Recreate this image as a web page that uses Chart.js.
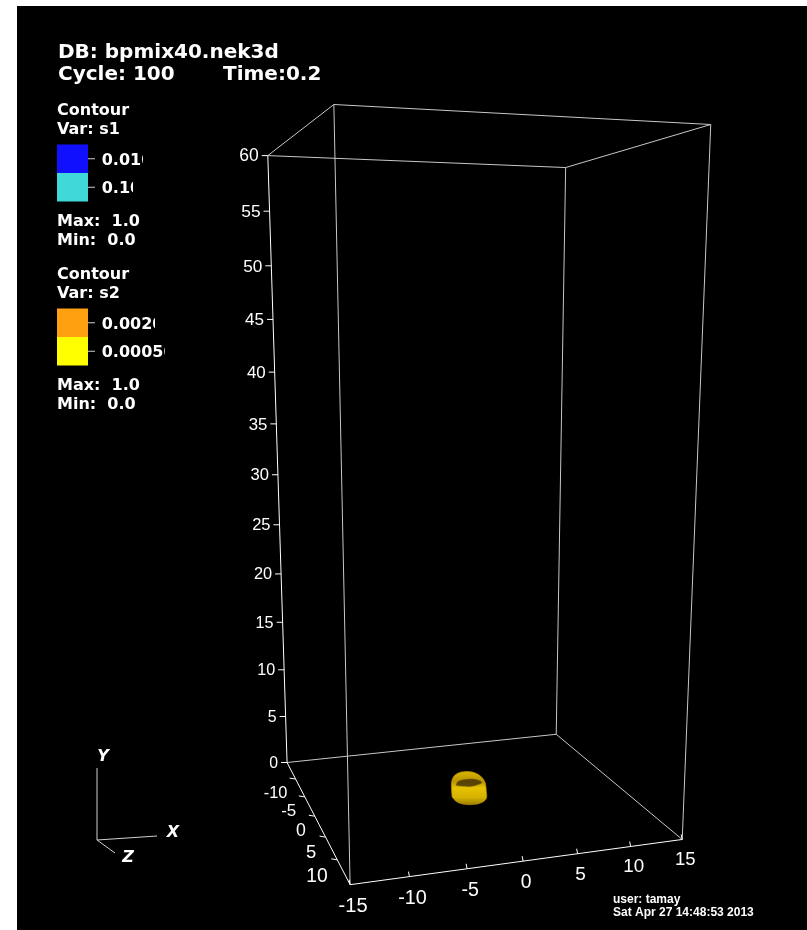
<!DOCTYPE html>
<html>
<head>
<meta charset="utf-8">
<title>bpmix40.nek3d</title>
<script src="https://cdn.jsdelivr.net/npm/chart.js@4.4.1/dist/chart.umd.min.js"></script>
<style>
  html, body { margin: 0; padding: 0; background: #fff; }
  #wrap { position: relative; width: 807px; height: 930px; }
</style>
</head>
<body>
<div id="wrap"><canvas id="plot"></canvas></div>
<script>
// Mesh extents (data units)
const xRange = [-15, 15];
const yRange = [0, 60];
const zRange = [-15, 15];

// Tick labels on the bounding box
const xTicks = [-15, -10, -5, 0, 5, 10, 15];
const yTicks = [0, 5, 10, 15, 20, 25, 30, 35, 40, 45, 50, 55, 60];
const zTicks = [-10, -5, 0, 5, 10];

// Contour legends
const s1Levels = ['0.010', '0.10'];
const s1Colors = ['#1010ff', '#40d8d8'];
const s2Levels = ['0.0020', '0.00050'];
const s2Colors = ['#ffa010', '#ffff00'];

// s2 contour shell sitting on the floor (x, y, z)
const shellSideX = [-1.7, -1.5, -0.9, 0, 0.9, 1.5, 1.75, 1.7, 1.5, 1.1, 0.5, 0, -0.5, -1.1, -1.5, -1.7];
const shellSideY = [0.3, 0.1, 0, 0, 0, 0.1, 0.5, 1.3, 1.7, 1.95, 2.05, 2.05, 2.05, 1.95, 1.7, 1.3];
const shellSideZ = [0, 0.8, 1.4, 1.7, 1.4, 0.8, 0, -0.2, -0.7, -1.2, -1.6, -1.7, -1.6, -1.2, -0.7, -0.2];
const shellHoleX = [-1.3, -0.9, 0, 0.9, 1.3, 0.9, 0, -0.9];
const shellHoleY = [1.45, 1.5, 1.45, 1.5, 1.45, 1.55, 1.6, 1.55];
const shellHoleZ = [0, 0.5, 0.7, 0.5, 0, -0.6, -0.8, -0.6];

// camera fitted to the render (normalised coords -> canvas px, homogeneous)
const view = {
    u: [469.3, 175.2, -26.0, -7.1],
    v: [488.1, 12.7, -354.6, -39.1],
    w: [1, 0.0392, -0.0561, -0.1229]
};

function norm(val, r) {
    return 2 * (val - r[0]) / (r[1] - r[0]) - 1;
}

function project(x, y, z) {
    const X = norm(x, xRange), Y = norm(y, yRange), Z = norm(z, zRange);
    const w = view.w[0] + view.w[1] * X + view.w[2] * Y + view.w[3] * Z;
    return {
        x: (view.u[0] + view.u[1] * X + view.u[2] * Y + view.u[3] * Z) / w,
        y: (view.v[0] + view.v[1] * X + view.v[2] * Y + view.v[3] * Z) / w,
        w: w
    };
}

// Bounding box edges: corner pairs differing in one coordinate
const corners = [];
xRange.forEach(x => yRange.forEach(y => zRange.forEach(z => corners.push([x, y, z]))));
const datasets = [];
for (let i = 0; i < corners.length; i++) {
    for (let j = i + 1; j < corners.length; j++) {
        const a = corners[i], b = corners[j];
        const diff = [0, 1, 2].filter(k => a[k] !== b[k]).length;
        if (diff !== 1) continue;
        // the three labelled edges
        const isAxis = (a[0] === xRange[0] && b[0] === xRange[0] && a[2] === zRange[0] && b[2] === zRange[0]) ||
            (a[0] === xRange[0] && b[0] === xRange[0] && a[1] === yRange[0] && b[1] === yRange[0]) ||
            (a[1] === yRange[0] && b[1] === yRange[0] && a[2] === zRange[1] && b[2] === zRange[1]);
        datasets.push({
            data: [project(...a), project(...b)],
            showLine: true,
            borderColor: isAxis ? '#ffffff' : '#c8c8c8',
            borderWidth: 1,
            pointRadius: 0,
            order: 0
        });
    }
}

function shell(xs, ys, zs) {
    const pts = xs.map((x, i) => project(x, ys[i], zs[i]));
    pts.push(pts[0]);
    return pts;
}

// vertical shading of the shell, from its projected extent
function shellFill(ctx) {
    const chart = ctx.chart;
    const pts = ctx.dataset.data;
    if (!chart.chartArea) return '#d6b400';
    const ys = pts.map(p => chart.scales.y.getPixelForValue(p.y));
    const top = Math.min(...ys), bot = Math.max(...ys);
    const g = chart.ctx.createLinearGradient(0, top, 0, bot);
    g.addColorStop(0, '#d8b400');
    g.addColorStop(0.3, '#b89400');
    g.addColorStop(0.5, '#e6c400');
    g.addColorStop(0.8, '#d4b000');
    g.addColorStop(1, '#9c8000');
    return g;
}

datasets.push({
    data: shell(shellSideX, shellSideY, shellSideZ),
    showLine: true, fill: 'shape', tension: 0.35,
    backgroundColor: shellFill, borderColor: 'rgba(190,140,0,0.7)', borderWidth: 1,
    pointRadius: 0, order: 2
});
datasets.push({
    data: shell(shellHoleX, shellHoleY, shellHoleZ),
    showLine: true, fill: 'shape', tension: 0.4,
    backgroundColor: 'rgba(70,52,4,0.85)', borderColor: 'rgba(120,90,0,0.6)', borderWidth: 1,
    pointRadius: 0, order: 1
});

function px(chart, p) {
    return [chart.scales.x.getPixelForValue(p.x), chart.scales.y.getPixelForValue(p.y)];
}

function line(c, x1, y1, x2, y2, color) {
    c.strokeStyle = color;
    c.lineWidth = 1;
    c.beginPath();
    c.moveTo(x1, y1);
    c.lineTo(x2, y2);
    c.stroke();
}

function drawLegend(c, base, varName, levels, colors, clips) {
    c.fillStyle = '#fff';
    c.font = 'bold 16px "DejaVu Sans"';
    c.textAlign = 'left';
    c.textBaseline = 'alphabetic';
    c.fillText('Contour', 57, base);
    c.fillText('Var: ' + varName, 57, base + 18.5);
    const top = base + 29.5, h = 28.5;
    levels.forEach((lab, i) => {
        const y0 = top + i * h;
        c.fillStyle = colors[i];
        c.fillRect(57, y0, 31, h);
        const ty = y0 + h / 2;
        line(c, 88, ty, 95, ty, '#d0d0d0');
        c.save();
        c.beginPath();
        c.rect(100, ty - 12, clips[i] - 100, 24);
        c.clip();
        c.fillStyle = '#fff';
        c.fillText(lab, 101.7, ty + 6);
        c.restore();
    });
    c.fillStyle = '#fff';
    c.fillText('Max:  1.0', 57, base + 110.5);
    c.fillText('Min:  0.0', 57, base + 130);
}

const overlay = {
    id: 'overlay',
    beforeDraw(chart) {
        const c = chart.ctx;
        c.save();
        c.fillStyle = '#fff';
        c.fillRect(0, 0, chart.width, chart.height);
        c.fillStyle = '#000';
        c.fillRect(17, 6, chart.width - 17, chart.height - 6);
        c.restore();
    },
    afterDatasetsDraw(chart) {
        const c = chart.ctx;
        c.save();

        // Y axis ticks (back-left edge)
        yTicks.forEach(t => {
            const p = project(xRange[0], t, zRange[0]);
            const [x, y] = px(chart, p);
            const fs = 18 / p.w;
            line(c, x - 6, y, x, y, '#ffffff');
            c.fillStyle = '#fff';
            c.font = fs.toFixed(1) + 'px "Liberation Sans"';
            c.textAlign = 'right';
            c.textBaseline = 'middle';
            c.fillText(String(t), x - 9, y + 1);
        });

        // Z axis ticks (left floor edge)
        zTicks.forEach(t => {
            const p = project(xRange[0], yRange[0], t);
            const [x, y] = px(chart, p);
            const fs = 18 / p.w;
            line(c, x - 6, y - 1, x, y, '#ffffff');
            c.fillStyle = '#fff';
            c.font = fs.toFixed(1) + 'px "Liberation Sans"';
            c.textAlign = 'right';
            c.textBaseline = 'middle';
            c.fillText(String(t), x - 0.5 * fs, y + 0.85 * fs);
        });

        // X axis ticks (front floor edge)
        xTicks.forEach(t => {
            const p = project(t, yRange[0], zRange[1]);
            const [x, y] = px(chart, p);
            const fs = 18 / p.w;
            line(c, x, y, x - 1, y - 5, '#ffffff');
            c.fillStyle = '#fff';
            c.font = fs.toFixed(1) + 'px "Liberation Sans"';
            c.textAlign = 'center';
            c.textBaseline = 'middle';
            c.fillText(String(t), x + 3, y + 1.1 * fs);
        });

        // header
        c.fillStyle = '#fff';
        c.font = 'bold 20px "DejaVu Sans"';
        c.textAlign = 'left';
        c.textBaseline = 'alphabetic';
        c.fillText('DB: bpmix40.nek3d', 58, 58);
        c.fillText('Cycle: 100', 58, 80);
        c.fillText('Time:0.2', 223, 80);

        drawLegend(c, 115, 's1', s1Levels, s1Colors, [143, 133]);
        drawLegend(c, 279, 's2', s2Levels, s2Colors, [155, 165]);

        // orientation triad
        line(c, 97, 840, 97, 768, '#d0d0d0');
        line(c, 97, 840, 157, 836, '#d0d0d0');
        line(c, 97, 840, 115, 853, '#d0d0d0');
        c.fillStyle = '#fff';
        c.font = 'italic bold 16px "DejaVu Sans"';
        c.textAlign = 'center';
        c.textBaseline = 'middle';
        c.fillText('Y', 103, 757);
        c.fillText('X', 173, 833);
        c.fillText('Z', 128, 858);

        // user / date
        c.font = 'bold 12px "Liberation Sans"';
        c.textAlign = 'left';
        c.textBaseline = 'alphabetic';
        c.fillText('user: tamay', 613, 903);
        c.fillText('Sat Apr 27 14:48:53 2013', 613, 916);

        c.restore();
    }
};

new Chart(document.getElementById('plot'), {
    type: 'scatter',
    data: { datasets: datasets },
    options: {
        responsive: true,
        maintainAspectRatio: false,
        animation: false,
        layout: { padding: 0 },
        plugins: {
            legend: { display: false },
            tooltip: { enabled: false }
        },
        scales: {
            x: { type: 'linear', display: false, min: 0, max: 807 },
            y: { type: 'linear', display: false, min: 0, max: 930, reverse: true }
        }
    },
    plugins: [overlay]
});
</script>
</body>
</html>
